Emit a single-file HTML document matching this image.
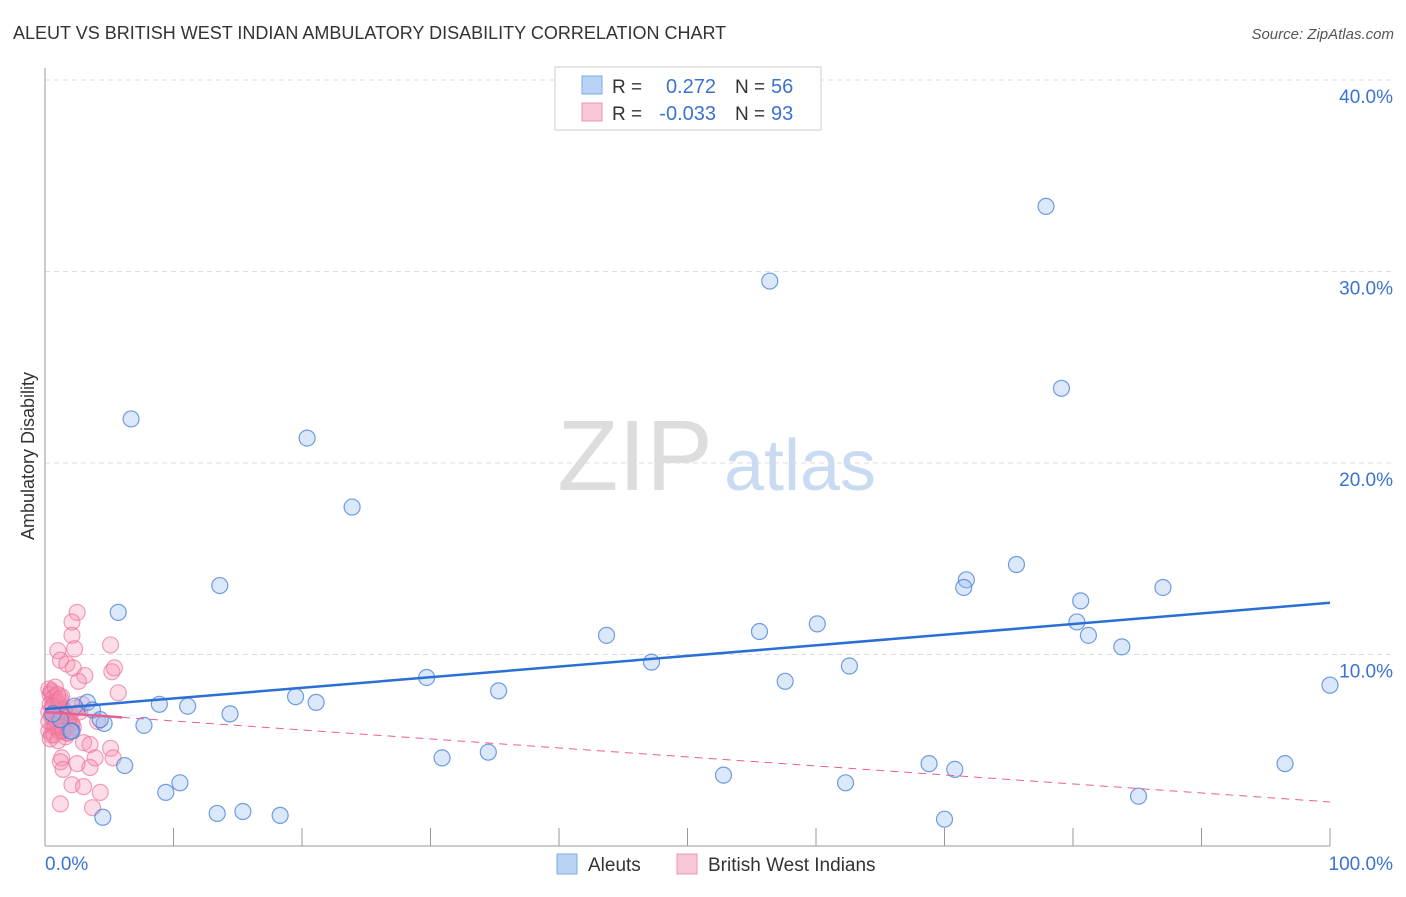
<!DOCTYPE html>
<html><head><meta charset="utf-8"><style>
body{margin:0;background:#fff;font-family:"Liberation Sans",sans-serif}
svg text{font-family:"Liberation Sans",sans-serif}
</style></head><body>
<svg width="1406" height="892" viewBox="0 0 1406 892">
<text x="13" y="39" font-size="18" fill="#333">ALEUT VS BRITISH WEST INDIAN AMBULATORY DISABILITY CORRELATION CHART</text>
<text x="1394" y="39" font-size="15" fill="#555" text-anchor="end" font-style="italic">Source: ZipAtlas.com</text>
<text transform="translate(34,456) rotate(-90)" font-size="18" fill="#333" text-anchor="middle">Ambulatory Disability</text>
<g>
<text x="635" y="490" font-size="100" fill="#ddd" text-anchor="middle" font-family="Liberation Serif,serif">ZIP</text>
<text x="800" y="490" font-size="72" fill="#c9dbf2" text-anchor="middle">atlas</text>
</g>
<g id="grid"></g>
<g id="axes"></g>
<g id="marks"></g>
<g>
<rect x="555" y="67" width="266" height="63" fill="#fff" stroke="#ccc"/>
<rect x="582" y="76" width="20" height="18" fill="#b9d3f5" stroke="#7fa9e3"/>
<rect x="582" y="103" width="20" height="18" fill="#f9c6d5" stroke="#f095b1"/>
<text x="612" y="93" font-size="19" fill="#333">R =</text>
<text x="716" y="93" font-size="20" fill="#3a73d0" text-anchor="end">0.272</text>
<text x="735" y="93" font-size="19" fill="#333">N =</text>
<text x="771" y="93" font-size="20" fill="#3a73d0">56</text>
<text x="612" y="120" font-size="19" fill="#333">R =</text>
<text x="716" y="120" font-size="20" fill="#3a73d0" text-anchor="end">-0.033</text>
<text x="735" y="120" font-size="19" fill="#333">N =</text>
<text x="771" y="120" font-size="20" fill="#3a73d0">93</text>
</g>
<g>
<rect x="557" y="854" width="20" height="20" fill="#b9d3f5" stroke="#7fa9e3"/>
<text x="588" y="871" font-size="19" fill="#333">Aleuts</text>
<rect x="677" y="854" width="20" height="20" fill="#f9c6d5" stroke="#f095b1"/>
<text x="708" y="871" font-size="19" fill="#333">British West Indians</text>
</g>
</svg>
<script>
const yTicks=[10,20,30,40];
const yTickLabels=["10.0%","20.0%","30.0%","40.0%"];
const xTickLabels=["0.0%","100.0%"];
const aleutX=[6.7,20.4,23.9,13.6,5.7,3.3,3.7,4.6,2.1,6.2,7.7,8.9,11.1,14.4,19.5,21.1,9.4,10.5,13.4,15.4,18.3,4.5,29.7,35.3,30.9,34.5,43.7,47.2,55.6,57.6,60.1,62.6,52.8,62.3,56.4,77.9,79.1,75.6,71.7,71.5,80.6,80.3,81.2,87.0,83.8,68.8,70.8,70.0,85.1,96.5,100,2.0,1.2,0.6,2.3,4.3];
const aleutY=[22.3,21.3,17.7,13.6,12.2,7.5,7.1,6.4,6.0,4.2,6.3,7.4,7.3,6.9,7.8,7.5,2.8,3.3,1.7,1.8,1.6,1.5,8.8,8.1,4.6,4.9,11.0,9.6,11.2,8.6,11.6,9.4,3.7,3.3,29.5,33.4,23.9,14.7,13.9,13.5,12.8,11.7,11.0,13.5,10.4,4.3,4.0,1.4,2.6,4.3,8.4,6.0,6.6,6.9,7.3,6.6];
const bwiX=[2.5,2.1,2.1,5.1,1.0,2.3,1.2,1.7,2.2,5.2,5.4,3.1,2.6,5.7,2.9,4.1,3.0,3.5,5.1,5.3,3.9,1.3,1.2,2.5,3.5,1.4,2.1,3.0,4.3,1.2,3.7,
0.3,0.5,0.7,0.9,1.1,1.3,1.5,1.7,1.9,2.1,0.4,0.6,0.8,1.0,1.2,1.4,1.6,1.8,2.0,0.3,0.5,0.7,0.9,1.1,1.3,1.5,1.7,0.4,0.6,0.8,1.0,1.2,1.4,1.6,0.3,0.5,0.7,0.9,1.1,1.3,0.5,0.8,1.0,1.5,1.9,0.4,0.7,1.1,1.6,2.2,0.6,0.9,1.3,1.8,2.4,0.3,0.8,1.2,2.7,1.0,1.4];
const bwiY=[12.2,11.7,11.0,10.5,10.2,10.3,9.7,9.5,9.3,9.1,9.3,8.9,8.6,8.0,7.4,6.5,5.4,5.3,5.1,4.6,4.6,4.6,4.4,4.3,4.1,4.0,3.2,3.1,2.8,2.2,2.0,
8.2,8.0,7.8,7.6,7.4,7.2,7.0,6.8,6.6,6.4,7.9,7.7,7.5,7.3,7.1,6.9,6.7,6.5,6.3,7.0,6.8,6.6,6.4,6.2,6.0,6.1,5.9,7.4,7.2,6.9,6.7,6.5,6.3,6.1,6.0,5.8,6.2,6.4,7.6,7.8,8.1,8.3,7.9,7.1,6.8,5.6,5.8,6.0,5.7,6.2,7.3,6.6,6.2,5.9,7.2,6.5,6.3,7.7,7.0,5.5,6.0];
const aleutTrend=[7.15,12.7];
const bwiTrend=[7.0,2.3];
const X0=45,X1=1330,Y0=846,PX10=191.5;
const sx=v=>X0+(X1-X0)*v/100;
const sy=v=>Y0-PX10*v/10;
const NS="http://www.w3.org/2000/svg";
function mk(t,a,p){const e=document.createElementNS(NS,t);for(const k in a)e.setAttribute(k,a[k]);p.appendChild(e);return e;}
const grid=document.getElementById('grid'),axes=document.getElementById('axes'),marks=document.getElementById('marks');
yTicks.forEach((t,i)=>{
 const l=mk('line',{x1:X0,x2:1395,y1:sy(t),y2:sy(t),stroke:'#ddd','stroke-dasharray':'5,4'},grid);
 
 
 const tx=mk('text',{x:1393,y:sy(t)+23,'font-size':19,fill:'#3a73d0','text-anchor':'end'},axes);
 tx.textContent=yTickLabels[i];
 
 
});
const yax=mk('line',{x1:X0,x2:X0,y1:68,y2:Y0,stroke:'#999'},axes);


const xax=mk('line',{x1:X0,x2:X1,y1:Y0,y2:Y0,stroke:'#999'},axes);


for(let i=0;i<=10;i++){
 const tk=mk('line',{x1:sx(i*10),x2:sx(i*10),y1:828,y2:Y0,stroke:'#999'},axes);
 
 
}
[[0,'start',45],[100,'end',1393]].forEach((d,i)=>{
 const tx=mk('text',{x:d[2],y:870,'font-size':19,fill:'#3a73d0','text-anchor':d[1]},axes);
 tx.textContent=xTickLabels[i];
 
 
});
bwiX.forEach((x,i)=>{
 const c=mk('circle',{cx:sx(x),cy:sy(bwiY[i]),r:8,fill:'rgba(244,140,172,0.3)',stroke:'rgba(236,110,150,0.65)','stroke-width':1.2},marks);
 
 
});
aleutX.forEach((x,i)=>{
 const c=mk('circle',{cx:sx(x),cy:sy(aleutY[i]),r:8,fill:'rgba(150,190,240,0.35)',stroke:'rgba(70,125,215,0.75)','stroke-width':1.2},marks);
 
 
});
const bt=mk('line',{x1:sx(0),y1:sy(aleutTrend[0]),x2:sx(100),y2:sy(aleutTrend[1]),stroke:'#2b6fd6','stroke-width':2.5},marks);


const mid=bwiTrend[0]+(bwiTrend[1]-bwiTrend[0])*0.06;
const pt1=mk('line',{x1:sx(0),y1:sy(bwiTrend[0]),x2:sx(6),y2:sy(mid),stroke:'#e8608e','stroke-width':2.5},marks);


const pt2=mk('line',{x1:sx(6),y1:sy(mid),x2:sx(100),y2:sy(bwiTrend[1]),stroke:'#e8608e','stroke-width':1,'stroke-dasharray':'8,6'},marks);


</script>
</body></html>
